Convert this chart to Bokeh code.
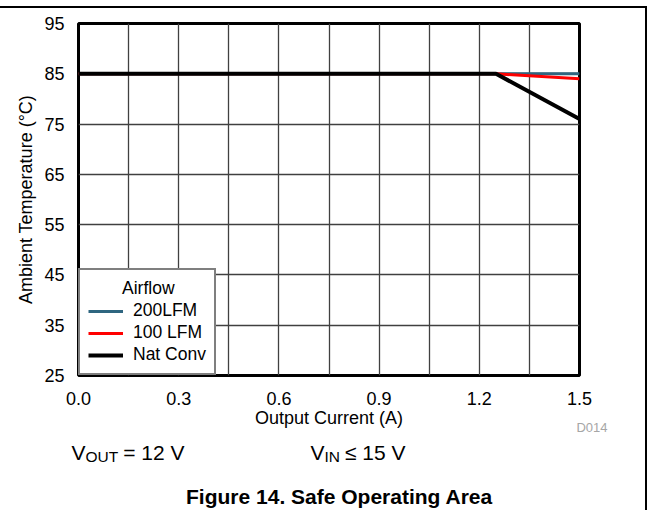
from bokeh.plotting import figure
from bokeh.layouts import column, row
from bokeh.models import Range1d, Legend, LegendItem, FixedTicker
from bokeh.core.properties import value
from bokeh.embed import file_html
from bokeh.resources import INLINE

# ---- data ----
x_200 = [0.0, 1.25, 1.5]
y_200 = [85, 85, 85]
x_100 = [0.0, 1.25, 1.5]
y_100 = [85, 85, 84]
x_nat = [0.0, 1.25, 1.5]
y_nat = [85, 85, 76]

x_ticks = [0.0, 0.3, 0.6, 0.9, 1.2, 1.5]
x_minor = [0.15, 0.45, 0.75, 1.05, 1.35]
y_ticks = [25, 35, 45, 55, 65, 75, 85, 95]
series_names = ["200LFM", "100 LFM", "Nat Conv"]
legend_title = "Airflow"

cond_main = ["V", "= 12 V", "V", "≤ 15 V"]
cond_sub = ["OUT", "IN"]
fig_code = "D014"
caption = "Figure 14. Safe Operating Area"

FONT = "Liberation Sans"
FS = "18px"

p = figure(width=645, height=424, output_backend="svg", toolbar_location=None,
           x_range=Range1d(0, 1.5), y_range=Range1d(25, 95),
           min_border_left=78, min_border_right=66, min_border_top=15,
           min_border_bottom=57)

p.outline_line_color = "black"
p.outline_line_width = 3
p.outline_line_alpha = 1

p.xaxis.ticker = FixedTicker(ticks=x_ticks, minor_ticks=x_minor)
p.yaxis.ticker = FixedTicker(ticks=y_ticks)
p.xaxis.major_label_overrides = {t: f"{t:.1f}" for t in x_ticks}

for ax in (p.xaxis[0], p.yaxis[0]):
    ax.axis_line_color = None
    ax.major_tick_line_color = None
    ax.minor_tick_line_color = None
    ax.major_label_text_font = FONT
    ax.major_label_text_font_size = FS
    ax.major_label_text_color = "black"
    ax.axis_label_text_font = FONT
    ax.axis_label_text_font_size = FS
    ax.axis_label_text_font_style = "normal"
    ax.axis_label_text_color = "black"

p.xaxis.axis_label = "Output Current (A)"
p.yaxis.axis_label = "Ambient Temperature (°C)"
p.xaxis.major_label_standoff = 10
p.xaxis.axis_label_standoff = 0
p.yaxis.major_label_standoff = 8
p.yaxis.axis_label_standoff = 5

p.xgrid.grid_line_color = "#404040"
p.xgrid.grid_line_width = 1.3
p.xgrid.minor_grid_line_color = "#404040"
p.xgrid.minor_grid_line_width = 1.3
p.ygrid.grid_line_color = "#404040"
p.ygrid.grid_line_width = 1.3

r200 = p.line(x_200, y_200, line_color="#2f6680", line_width=3)
r100 = p.line(x_100, y_100, line_color="#ff0000", line_width=3)
rnat = p.line(x_nat, y_nat, line_color="black", line_width=4)

legend = Legend(items=[LegendItem(label=series_names[0], renderers=[r200]),
                       LegendItem(label=series_names[1], renderers=[r100]),
                       LegendItem(label=series_names[2], renderers=[rnat])],
                location="bottom_left", title="\u00a0" * 7 + legend_title,
                margin=0, padding=8, spacing=1, label_height=20, glyph_height=20,
                glyph_width=35, label_standoff=10,
                border_line_color="black", border_line_width=2.5,
                background_fill_color="white", background_fill_alpha=1,
                label_text_font=FONT, label_text_font_size="17.5px",
                label_text_color="black",
                title_text_font=FONT, title_text_font_size="17.5px",
                title_text_font_style="normal", title_text_color="black",
                title_standoff=1)
p.add_layout(legend)

# ---- lower text panel (overlaps the empty strip under the x axis) ----
P2H = 95
p2 = figure(width=645, height=P2H, output_backend="svg", toolbar_location=None,
            x_range=Range1d(0, 645), y_range=Range1d(P2H, 0),
            x_axis_location=None, y_axis_location=None,
            min_border_left=0, min_border_right=0, min_border_top=0,
            min_border_bottom=0, margin=(-17, 0, 0, 0))
p2.grid.visible = False
p2.outline_line_color = None
p2.background_fill_alpha = 0
p2.border_fill_alpha = 0

top = 422  # page y where the lower panel starts

p2.text(x=[71, 122.7, 310, 344.5], y=[458.5 - top] * 4, text=cond_main,
        text_font=value(FONT), text_font_size="21px", text_color="black",
        text_baseline="alphabetic", text_align="left")
p2.text(x=[85, 324], y=[462.5 - top] * 2, text=cond_sub,
        text_font=value(FONT), text_font_size="15.5px", text_color="black",
        text_baseline="alphabetic", text_align="left")
p2.text(x=[607], y=[434 - top], text=[fig_code],
        text_font=value(FONT), text_font_size="13px", text_color="#a6a6a6",
        text_baseline="alphabetic", text_align="right")
p2.text(x=[339], y=[503 - top], text=[caption],
        text_font=value(FONT), text_font_size="21px", text_font_style="bold",
        text_color="black", text_baseline="alphabetic", text_align="center")

layout = column(p, row(p2), spacing=0, margin=(6, 0, 0, 0),
                styles={"border-top": "2px solid black",
                        "border-right": "2px solid black"})

open("out.html", "w").write(file_html(layout, INLINE))
